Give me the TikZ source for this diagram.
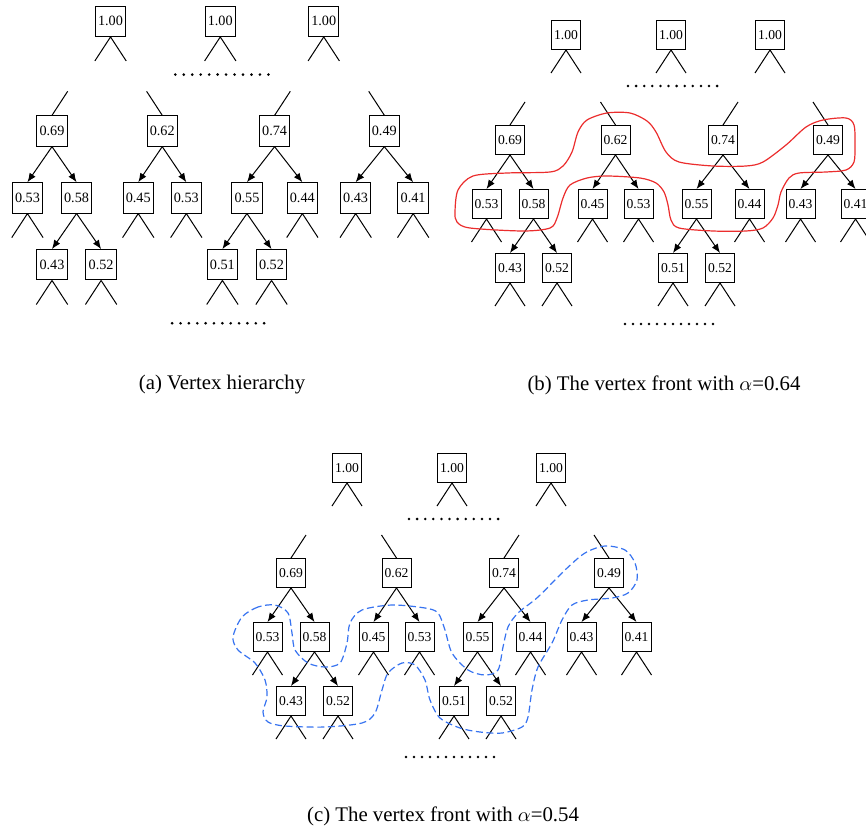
\documentclass[tikz,border=0pt]{standalone}
\usepackage{fontspec}
\setmainfont{Liberation Serif}
\usetikzlibrary{trees, shapes, arrows.meta, positioning}

\definecolor{frontred}{RGB}{235,45,45}
\definecolor{frontblue}{RGB}{55,115,240}

% one copy of the vertex hierarchy, local units are pixels
\newcommand{\vhierarchy}{%
  \foreach \x/\n in {56/r1, 161/r2, 260/r3}
    \node[vbox] (\n) at (\x,105) {1.00};
  \foreach \i in {0,...,11}
    \fill (118+8.1*\i,54) circle (1.4);

  \node[vbox] (v69) at (0,0) {0.69} [sibling distance=23.5pt]
    child {node[vbox] (v53) {0.53}}
    child {node[vbox] (v58) {0.58}
      child {node[vbox] (v43) {0.43}}
      child {node[vbox] (v52) {0.52}}
    };
  \node[vbox] (v62) at (105.5,0) {0.62} [sibling distance=23pt]
    child {node[vbox] (v45) {0.45}}
    child {node[vbox] (v53b) {0.53}};
  \node[vbox] (v74) at (213,0) {0.74} [sibling distance=26.5pt]
    child {node[vbox] (v55) {0.55}
      child {node[vbox] (v51) {0.51}}
      child {node[vbox] (v52b) {0.52}}
    }
    child {node[vbox] (v44) {0.44}};
  \node[vbox] (v49) at (318,0) {0.49} [sibling distance=27.5pt]
    child {node[vbox] (v43b) {0.43}}
    child {node[vbox] (v41) {0.41}};

  \draw (v69.north) -- ++(15,23);
  \draw (v62.north) -- ++(-15,23);
  \draw (v74.north) -- ++(15,23);
  \draw (v49.north) -- ++(-15,23);
  \foreach \n in {r1,r2,r3,v53,v43,v52,v45,v53b,v44,v51,v52b,v43b,v41}
    \draw (\n.south) -- ++(-15,-23) (\n.south) -- ++(15,-23);

  \foreach \i in {0,...,11}
    \fill (115+8*\i,-184) circle (1.4);
}

\begin{document}
\begin{tikzpicture}[x=0.5pt, y=0.5pt,
  level distance=32pt,
  level 2/.style={sibling distance=23.5pt},
  vbox/.style={draw, rectangle, minimum size=14.5pt, inner sep=0pt,
    font=\fontsize{6.8}{8}\selectfont},
  edge from parent/.style={draw, -{Latex[length=4.5pt, width=3.6pt]}},
  edge from parent path={(\tikzparentnode.south) -- (\tikzchildnode.north)},
  caption/.style={font=\fontsize{10.4}{12}\selectfont},
  line width=0.5pt]

  \clip (0,0) rectangle (866,-829);

  % (a)
  \begin{scope}[shift={(52,-131)}, scale=1.045, transform shape, name prefix=a-]
    \vhierarchy
  \end{scope}
  % (b)
  \begin{scope}[shift={(510,-140)}, name prefix=b-]
    \vhierarchy
  \end{scope}
  % (c)
  \begin{scope}[shift={(291,-573)}, name prefix=c-]
    \vhierarchy
  \end{scope}

  % vertex fronts
  \draw[frontred, line width=0.6pt] plot[smooth cycle, tension=0.5] coordinates {
    (455,-212) (458,-190) (473,-176) (507,-173) (550,-172) (563,-166)
    (572,-152) (578,-132) (587,-120) (607,-113) (630,-113) (647,-121)
    (656,-132) (666,-152) (679,-162) (713,-166) (746,-166) (763,-162)
    (786,-145) (806,-127) (823,-120) (846,-118) (854,-125) (855,-145)
    (854,-162) (846,-170) (826,-172) (799,-173) (789,-178) (781,-192)
    (778,-205) (773,-218) (763,-228) (746,-231) (713,-231) (679,-228)
    (671,-220) (668,-205) (664,-192) (656,-183) (640,-178) (607,-176)
    (587,-178) (570,-185) (563,-198) (557,-218) (550,-228) (523,-231)
    (470,-228) (457,-222)};
  \draw[frontblue, line width=0.6pt, dash pattern=on 3.5pt off 1.8pt]
    plot[smooth cycle, tension=0.5] coordinates {
    (275,-605) (258,-607) (242,-617) (233,-637) (238,-650) (255,-663)
    (265,-680) (267,-697) (263,-712) (268,-722) (285,-726) (325,-727)
    (362,-723) (375,-713) (382,-690) (388,-673) (402,-663) (415,-665)
    (425,-680) (430,-700) (440,-718) (460,-728) (480,-732) (502,-733)
    (522,-727) (528,-717) (532,-690) (538,-667) (552,-643) (562,-620)
    (572,-605) (588,-600) (612,-598) (628,-593) (637,-580) (635,-563)
    (625,-550) (605,-546) (585,-553) (565,-570) (538,-597) (518,-613)
    (508,-627) (503,-647) (498,-670) (485,-675) (468,-670) (452,-653)
    (445,-630) (438,-613) (425,-608) (392,-605) (362,-610) (350,-623)
    (347,-643) (340,-663) (325,-667) (308,-663) (295,-650) (292,-633)
    (288,-613)};

  \node[caption] (capa) at (222,-385) {(a) Vertex hierarchy};
  \node[caption] (capb) at (664,-385) {(b) The vertex front with $\alpha$=0.64};
  \node[caption] (capc) at (443,-816) {(c) The vertex front with $\alpha$=0.54};
\end{tikzpicture}
\end{document}
